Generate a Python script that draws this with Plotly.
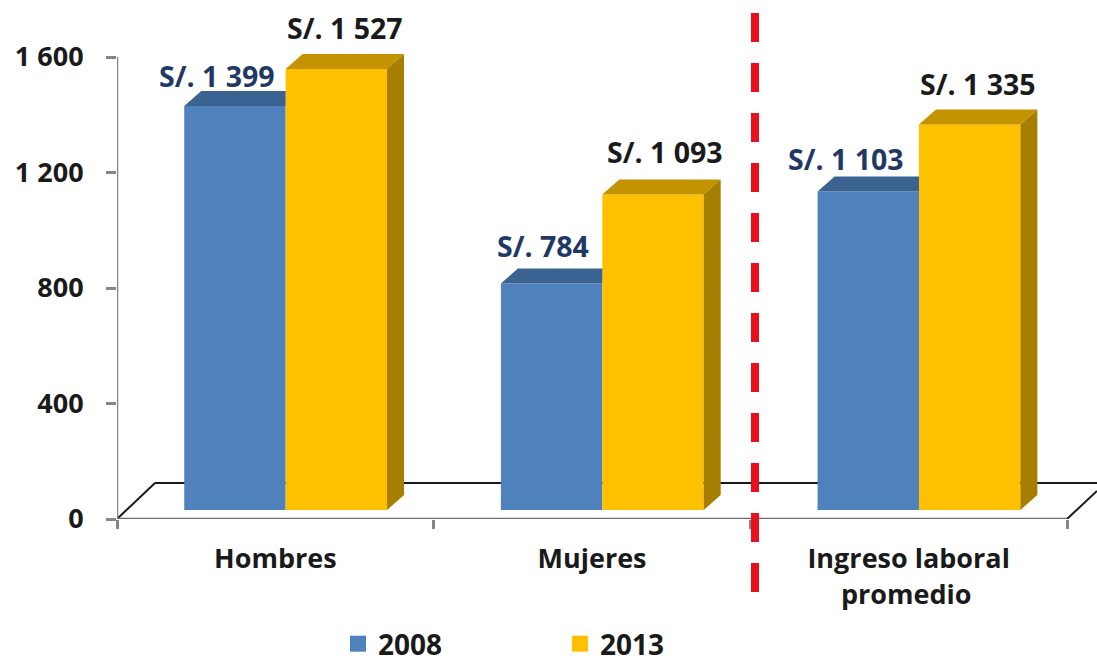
import plotly.graph_objects as go

categories = ["Hombres", "Mujeres", "Ingreso laboral"]
category_second_line = ["", "", "promedio"]
series_2008 = [1399, 784, 1103]
series_2013 = [1527, 1093, 1335]
y_ticks = [0, 400, 800, 1200, 1600]
y_tick_labels = ["0", "400", "800", "1 200", "1 600"]
label_2008 = ["S/. 1 399", "S/. 784", "S/. 1 103"]
label_2013 = ["S/. 1 527", "S/. 1 093", "S/. 1 335"]

# pixel geometry of the plot
W, H = 1097, 662
LEFT, BASE = 117, 519
PX_PER_CAT = 316.67
PX_PER_VAL = 462 / 1600
dx = lambda px: px / PX_PER_CAT
dy = lambda px: px / PX_PER_VAL

BAR_W = dx(101.4)
SHIFT = dx(10.3)
FLOOR = dy(9)
DEPTH_X = dx(17)
DEPTH_Y = dy(15)
x_pos = list(range(len(categories)))

BLUE, BLUE_TOP = "#4F81BD", "#3A6391"
GOLD, GOLD_TOP, GOLD_SIDE = "#FFC000", "#C49300", "#A67F00"
AXIS = "#868686"
FONT = "Open Sans"
TEXT = "#1A1A1A"

fig = go.Figure()
fig.add_bar(x=x_pos, y=series_2008, base=FLOOR, width=BAR_W, offset=SHIFT - BAR_W,
            marker=dict(color=BLUE, line_width=0), showlegend=False, hoverinfo="skip")
fig.add_bar(x=x_pos, y=series_2013, base=FLOOR, width=BAR_W, offset=SHIFT,
            marker=dict(color=GOLD, line_width=0), showlegend=False, hoverinfo="skip")


def faces(color, polys):
    xs, ys = [], []
    for p in polys:
        xs += [q[0] for q in p] + [p[0][0], None]
        ys += [q[1] for q in p] + [p[0][1], None]
    fig.add_scatter(x=xs, y=ys, mode="lines", fill="toself", fillcolor=color,
                    line=dict(width=0, color=color), showlegend=False,
                    hoverinfo="skip", cliponaxis=False)


blue_top, gold_top, gold_side = [], [], []
for c, v08, v13 in zip(x_pos, series_2008, series_2013):
    l, m, r = c + SHIFT - BAR_W, c + SHIFT, c + SHIFT + BAR_W
    t08, t13 = v08 + FLOOR, v13 + FLOOR
    blue_top.append([(l, t08), (l + DEPTH_X, t08 + DEPTH_Y), (m, t08 + DEPTH_Y), (m, t08)])
    gold_top.append([(m, t13), (m + DEPTH_X, t13 + DEPTH_Y), (r + DEPTH_X, t13 + DEPTH_Y), (r, t13)])
    gold_side.append([(r, FLOOR), (r + DEPTH_X, FLOOR + DEPTH_Y), (r + DEPTH_X, t13 + DEPTH_Y), (r, t13)])
faces(BLUE_TOP, blue_top)
faces(GOLD_TOP, gold_top)
faces(GOLD_SIDE, gold_side)

# axis lines
fig.add_scatter(x=[-0.5, -0.5], y=[0, 1600], mode="lines", line=dict(color=AXIS, width=2.5),
                showlegend=False, hoverinfo="skip", cliponaxis=False)
fig.add_scatter(x=[-0.5, 2.5], y=[0, 0], mode="lines", line=dict(color="#6E6E6E", width=2.5),
                showlegend=False, hoverinfo="skip", cliponaxis=False)

# legend entries
for name, color in (("2008", BLUE), ("2013", GOLD)):
    fig.add_scatter(x=[None], y=[None], mode="markers", name=name,
                    marker=dict(symbol="square", size=18, color=color))

# floor outline, behind the bars
floor_h = dy(36)
back_left = -0.5 + dx(38)
x_end = 2.5 + dx(30)
shapes = [
    dict(type="line", xref="x", yref="y", x0=-0.5, y0=0, x1=back_left, y1=floor_h),
    dict(type="line", xref="x", yref="y", x0=back_left, y0=floor_h, x1=x_end, y1=floor_h),
    dict(type="line", xref="x", yref="y", x0=2.5, y0=0, x1=x_end, y1=dy(28)),
]
for s in shapes:
    s.update(layer="below", line=dict(color=TEXT, width=2))
# red divider
shapes.append(dict(type="line", xref="paper", yref="paper", x0=(755 - LEFT) / (W - LEFT), x1=(755 - LEFT) / (W - LEFT),
                   y0=(BASE - 13) / BASE, y1=(BASE - 595) / BASE, layer="above",
                   line=dict(color="#E8101C", width=8, dash="29px,21px")))

# label nudges relative to the centre of each bar (px)
nudge_08 = [(-18, 30), (-9, 38), (-22, 33)]
nudge_13 = [(9, 41), (12, 42), (8, 41)]
ann = []
for c, v, t, (nx, ny) in zip(x_pos, series_2008, label_2008, nudge_08):
    ann.append(dict(x=c + SHIFT - BAR_W / 2, y=v + FLOOR, text=t, xshift=nx, yshift=ny,
                    font=dict(color="#1F3864", size=28.5)))
for c, v, t, (nx, ny) in zip(x_pos, series_2013, label_2013, nudge_13):
    ann.append(dict(x=c + SHIFT + BAR_W / 2, y=v + FLOOR, text=t, xshift=nx, yshift=ny,
                    font=dict(color=TEXT, size=28.5)))
for c, t in zip(x_pos, category_second_line):
    if t:
        ann.append(dict(x=c, y=0, text=t, xshift=-2, yshift=-74, font=dict(color=TEXT, size=27)))
for a in ann:
    a.update(showarrow=False, xanchor="center", yanchor="middle")
    a["font"].update(family=FONT, weight="bold")

tick_font = dict(family=FONT, size=27, color=TEXT, weight="bold")
fig.update_layout(
    width=W, height=H,
    margin=dict(l=LEFT, r=0, t=0, b=H - BASE),
    paper_bgcolor="white", plot_bgcolor="white",
    barmode="overlay", hovermode=False,
    shapes=shapes, annotations=ann,
    font=dict(family=FONT, size=27, color=TEXT, weight="bold"),
    xaxis=dict(range=[-0.5, x_end], tickmode="array", tickvals=x_pos, ticktext=categories,
               ticks="", showgrid=False, zeroline=False, showline=False,
               tickfont=tick_font, ticklabelstandoff=21,
               minor=dict(tickmode="array", tickvals=[-0.5, 0.5, 1.5, 2.5], ticks="outside",
                          ticklen=9, tickwidth=2.5, tickcolor=AXIS, showgrid=False)),
    yaxis=dict(range=[0, BASE / PX_PER_VAL], tickmode="array", tickvals=y_ticks, ticktext=y_tick_labels,
               ticks="outside", ticklen=10, tickwidth=2.5, tickcolor=AXIS, showgrid=False,
               zeroline=False, showline=False, ticklabelstandoff=17, tickfont=tick_font),
    legend=dict(orientation="h", xref="container", yref="container",
                x=338 / W, xanchor="left", y=(H - 644) / H, yanchor="middle",
                entrywidth=177, entrywidthmode="pixels", itemclick=False, itemdoubleclick=False,
                font=dict(family=FONT, size=28, color=TEXT, weight="bold"),
                bgcolor="rgba(0,0,0,0)"),
)

fig.write_html("out.html", post_script="document.body.style.margin='0';",
               config={"displayModeBar": False})
